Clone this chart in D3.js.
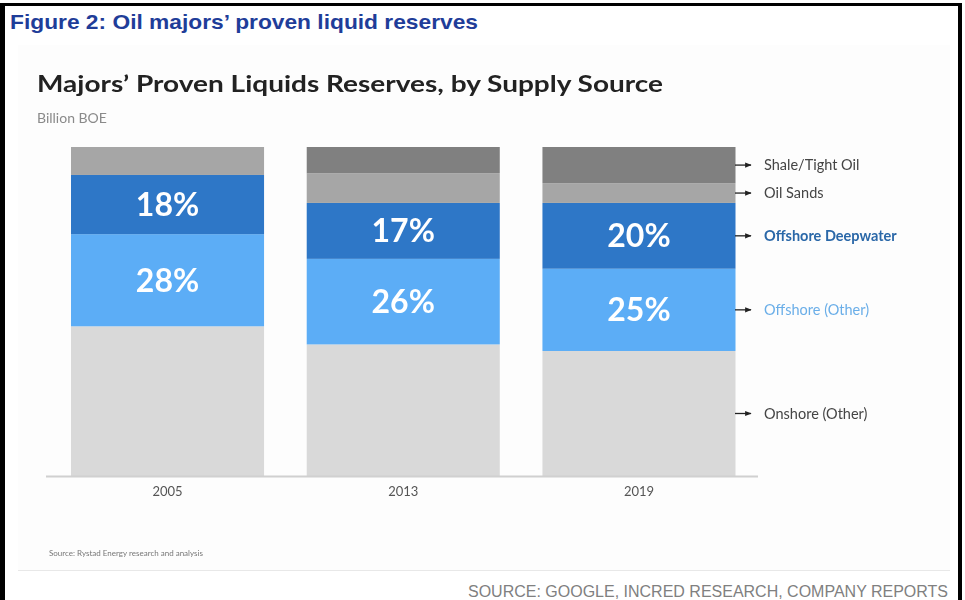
<!DOCTYPE html>
<html>
<head>
<meta charset="utf-8">
<script src="https://cdn.jsdelivr.net/npm/d3@7"></script>
<style>
  html, body { margin: 0; padding: 0; background: #fff; }
  svg { display: block; }
</style>
</head>
<body>
<svg id="chart" width="965" height="600"></svg>
<script>
// Share of proven liquids reserves (%) by supply source
const years = ["2005", "2013", "2019"];
const shaleTight = [0, 8, 11];
const oilSands = [8.5, 9, 6];
const offshoreDeepwater = [18, 17, 20];
const offshoreOther = [28, 26, 25];
const onshoreOther = [45.5, 40, 38];

const seriesNames = ["Onshore (Other)", "Offshore (Other)", "Offshore Deepwater", "Oil Sands", "Shale/Tight Oil"];
const seriesValues = [onshoreOther, offshoreOther, offshoreDeepwater, oilSands, shaleTight];
const seriesColors = ["#d9d9d9", "#5badf6", "#2e77c7", "#a6a6a6", "#808080"];
const legendColors = ["#444444", "#6aaee8", "#2a67a8", "#444444", "#444444"];
const legendWeights = [400, 400, 700, 400, 400];
const labelledSeries = ["Offshore (Other)", "Offshore Deepwater"];

const svg = d3.select("#chart");
const W = 965, H = 600;

const defs = svg.append("defs");
defs.append("filter").attr("id", "soft")
  .attr("x", "-5%").attr("y", "-5%").attr("width", "110%").attr("height", "110%")
  .append("feGaussianBlur").attr("stdDeviation", 0.4);

// page frame
svg.append("rect").attr("x", 0).attr("y", 0).attr("width", W).attr("height", H).attr("fill", "#fff");
svg.append("rect").attr("x", 0).attr("y", 3).attr("width", 5).attr("height", H - 3).attr("fill", "#000");
svg.append("rect").attr("x", 0).attr("y", 3).attr("width", 962).attr("height", 3).attr("fill", "#000");
svg.append("rect").attr("x", 958).attr("y", 3).attr("width", 4).attr("height", H - 3).attr("fill", "#000");

// figure caption
svg.append("text")
  .attr("x", 10).attr("y", 29)
  .attr("font-family", "'Liberation Sans Narrow', 'Arial Narrow', 'Liberation Sans', Arial, sans-serif")
  .attr("font-weight", 700).attr("font-size", 21)
  .attr("fill", "#1f3d99")
  .attr("textLength", 468).attr("lengthAdjust", "spacingAndGlyphs")
  .text("Figure 2: Oil majors’ proven liquid reserves");

// chart panel
const panel = svg.append("g").attr("filter", "url(#soft)");
panel.append("rect").attr("x", 18).attr("y", 45).attr("width", 932).attr("height", 525).attr("fill", "#fdfdfd");
panel.append("line").attr("x1", 18).attr("x2", 950).attr("y1", 570.5).attr("y2", 570.5)
  .attr("stroke", "#e8e8e8").attr("stroke-width", 1);

const bodyFont = "Lato, 'Open Sans', 'Noto Sans', sans-serif";

panel.append("text")
  .attr("x", 37).attr("y", 92)
  .attr("font-family", bodyFont).attr("font-weight", 700).attr("font-size", 23)
  .attr("fill", "#222")
  .attr("textLength", 626).attr("lengthAdjust", "spacingAndGlyphs")
  .text("Majors’ Proven Liquids Reserves, by Supply Source");

panel.append("text")
  .attr("x", 37).attr("y", 123)
  .attr("font-family", bodyFont).attr("font-size", 14)
  .attr("fill", "#8a8a8a")
  .text("Billion BOE");

// scales
const x = d3.scaleBand().domain(years).range([71, 735.5]).paddingInner(0.181).paddingOuter(0);
const y = d3.scaleLinear().domain([0, 100]).range([476, 147]);

// stacked data
const rows = years.map((yr, i) => {
  const r = { year: yr };
  seriesNames.forEach((n, k) => { r[n] = seriesValues[k][i]; });
  return r;
});
const stacked = d3.stack().keys(seriesNames)(rows);

const layers = panel.append("g").selectAll("g")
  .data(stacked).join("g")
  .attr("fill", (d, i) => seriesColors[i]);

layers.selectAll("rect")
  .data(d => d).join("rect")
  .attr("x", d => x(d.data.year))
  .attr("width", x.bandwidth())
  .attr("y", d => y(d[1]))
  .attr("height", d => y(d[0]) - y(d[1]));

// percentage labels
stacked.filter(s => labelledSeries.includes(s.key)).forEach(s => {
  panel.append("g").selectAll("text")
    .data(s).join("text")
    .attr("x", d => x(d.data.year) + x.bandwidth() / 2)
    .attr("y", d => (y(d[0]) + y(d[1])) / 2)
    .attr("dy", "0.36em")
    .attr("text-anchor", "middle")
    .attr("font-family", bodyFont).attr("font-weight", 700).attr("font-size", 32)
    .attr("fill", "#fff")
    .text(d => (d[1] - d[0]) + "%");
});

// baseline
panel.append("line")
  .attr("x1", 46).attr("x2", 758).attr("y1", y(0) + 0.5).attr("y2", y(0) + 0.5)
  .attr("stroke", "#d0d0d0").attr("stroke-width", 2);

// year axis
const xAxis = panel.append("g")
  .attr("transform", `translate(0,${y(0)})`)
  .call(d3.axisBottom(x).tickSize(0).tickPadding(11));
xAxis.select(".domain").remove();
xAxis.selectAll("text")
  .attr("font-family", bodyFont).attr("font-size", 13).attr("fill", "#555");

// series legend pointing at the last bar
defs.append("marker")
  .attr("id", "arrowhead").attr("viewBox", "0 0 10 10")
  .attr("refX", 9).attr("refY", 5)
  .attr("markerWidth", 5).attr("markerHeight", 5)
  .attr("orient", "auto")
  .append("path").attr("d", "M0,1 L10,5 L0,9 Z").attr("fill", "#222");

const last = years.length - 1;
const legend = panel.append("g").selectAll("g")
  .data(stacked).join("g")
  .attr("transform", d => `translate(0,${(y(d[last][0]) + y(d[last][1])) / 2})`);

legend.append("line")
  .attr("x1", 735).attr("x2", 751).attr("y1", 0).attr("y2", 0)
  .attr("stroke", "#222").attr("stroke-width", 1.3)
  .attr("marker-end", "url(#arrowhead)");

legend.append("text")
  .attr("x", 764).attr("dy", "0.35em")
  .attr("font-family", bodyFont).attr("font-size", 14.5)
  .attr("font-weight", (d, i) => legendWeights[i])
  .attr("fill", (d, i) => legendColors[i])
  .text(d => d.key);

// panel source note
panel.append("text")
  .attr("x", 49).attr("y", 556)
  .attr("font-family", bodyFont).attr("font-size", 8)
  .attr("fill", "#777")
  .text("Source: Rystad Energy research and analysis");

// page source
svg.append("text")
  .attr("x", 948).attr("y", 597)
  .attr("text-anchor", "end")
  .attr("font-family", "'Liberation Sans', Arial, sans-serif")
  .attr("font-size", 16)
  .attr("fill", "#808080")
  .attr("textLength", 480).attr("lengthAdjust", "spacingAndGlyphs")
  .text("SOURCE: GOOGLE, INCRED RESEARCH, COMPANY REPORTS");
</script>
</body>
</html>
